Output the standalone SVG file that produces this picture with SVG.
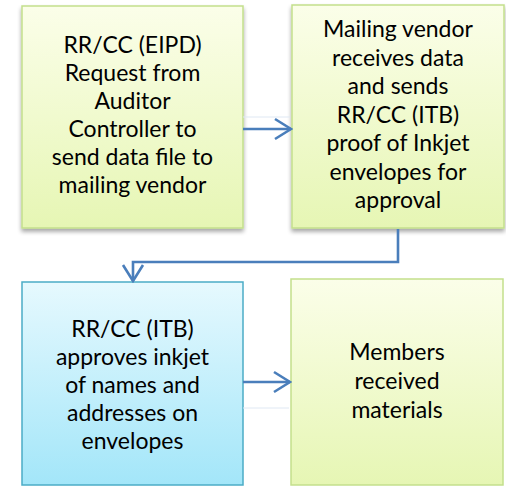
<svg xmlns="http://www.w3.org/2000/svg" width="506" height="486" viewBox="0 0 506 486">
<defs>
<linearGradient id="gGreen" x1="0" y1="0" x2="0" y2="1">
<stop offset="0" stop-color="#fbfee9"/>
<stop offset="1" stop-color="#e6f6b4"/>
</linearGradient>
<linearGradient id="gBlue" x1="0" y1="0" x2="0" y2="1">
<stop offset="0" stop-color="#e6f9fe"/>
<stop offset="1" stop-color="#a3e6f9"/>
</linearGradient>
<filter id="sh" x="-10%" y="-10%" width="120%" height="120%">
<feGaussianBlur in="SourceAlpha" stdDeviation="2"/>
<feOffset dx="0" dy="3"/>
<feComponentTransfer><feFuncA type="linear" slope="0.35"/></feComponentTransfer>
<feMerge><feMergeNode/><feMergeNode in="SourceGraphic"/></feMerge>
</filter>
<marker id="arr" viewBox="0 0 20 24" refX="18" refY="12" markerWidth="20" markerHeight="24" markerUnits="userSpaceOnUse" orient="auto">
<path d="M2,2 L18,12 L2,22" fill="none" stroke="#4a7ebb" stroke-width="2.6"/>
</marker>
</defs>
<style>
.g{fill:url(#gGreen);stroke:#c3df8c;stroke-width:1.5;filter:url(#sh)}
.b{fill:url(#gBlue);stroke:#4bacc6;stroke-width:1.5}
.t{font-family:Lato,"Liberation Sans",sans-serif;font-size:23px;fill:#000;text-anchor:middle}
.c{fill:none;stroke:#4a7ebb;stroke-width:2.6}
.f{fill:none;stroke:#dfe8f3;stroke-width:1}
</style>
<g id="n1">
<rect class="g" x="22" y="6" width="221" height="222"/>
<text class="t" x="132.5" y="53">RR/CC (EIPD)</text>
<text class="t" x="132.5" y="81">Request from</text>
<text class="t" x="132.5" y="109">Auditor</text>
<text class="t" x="132.5" y="137">Controller to</text>
<text class="t" x="132.5" y="165">send data file to</text>
<text class="t" x="132.5" y="193">mailing vendor</text>
</g>
<g id="n2">
<rect class="g" x="292" y="5" width="212" height="223"/>
<text class="t" x="398" y="37">Mailing vendor</text>
<text class="t" x="398" y="65.5">receives data</text>
<text class="t" x="398" y="94">and sends</text>
<text class="t" x="398" y="122.5">RR/CC (ITB)</text>
<text class="t" x="398" y="151">proof of Inkjet</text>
<text class="t" x="398" y="179.5">envelopes for</text>
<text class="t" x="398" y="208">approval</text>
</g>
<g id="n3">
<rect class="b" x="22" y="282" width="221" height="203"/>
<text class="t" x="132.5" y="337">RR/CC (ITB)</text>
<text class="t" x="132.5" y="365">approves inkjet</text>
<text class="t" x="132.5" y="393">of names and</text>
<text class="t" x="132.5" y="421">addresses on</text>
<text class="t" x="132.5" y="449">envelopes</text>
</g>
<g id="n4">
<rect class="g" x="291" y="279" width="212" height="206" style="filter:none"/>
<text class="t" x="397" y="360">Members</text>
<text class="t" x="397" y="389">received</text>
<text class="t" x="397" y="418">materials</text>
</g>
<g id="connectors">
<line class="f" x1="243" y1="117" x2="290" y2="117"/>
<line class="f" x1="243" y1="408" x2="289" y2="408"/>
<path class="c" d="M243,129 H291" marker-end="url(#arr)"/>
<path class="c" d="M398,229 V262 H133 V281" marker-end="url(#arr)"/>
<path class="c" d="M243,382 H290" marker-end="url(#arr)"/>
</g>
</svg>
